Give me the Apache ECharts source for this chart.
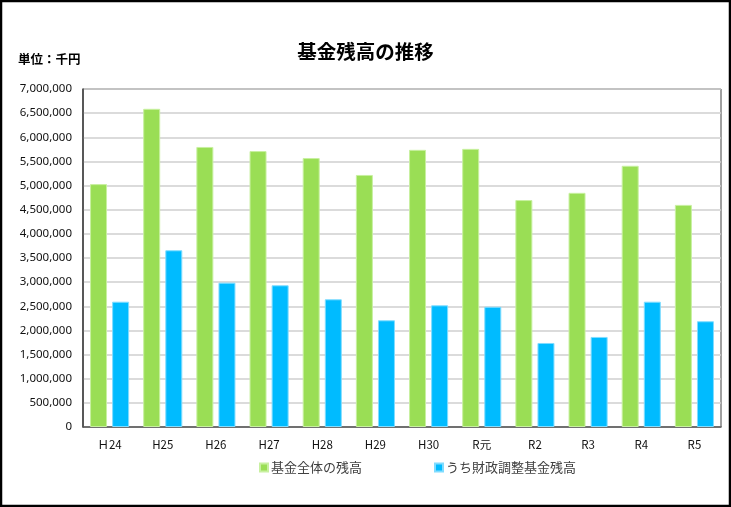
<!DOCTYPE html>
<html><head><meta charset="utf-8">
<script src="https://cdn.jsdelivr.net/npm/echarts@6/dist/echarts.min.js"></script>
<style>html,body{margin:0;padding:0;background:#fff}#c{width:731px;height:507px}</style>
</head><body><div id="c"></div>
<script>
const categories = ['Ｈ24','H25','H26','H27','H28','H29','H30','R元','R2','R3','R4','R5'];
const totalFund = [5030000,6590000,5800000,5715000,5570000,5220000,5740000,5760000,4700000,4850000,5410000,4600000];
const adjustFund = [2595000,3660000,2990000,2935000,2645000,2210000,2520000,2490000,1740000,1865000,2595000,2190000];
const seriesNames = ['基金全体の残高','うち財政調整基金残高'];
const yTicks = {min:0, max:7000000, interval:500000};

const font = '"Noto Sans CJK JP","Noto Sans",sans-serif';
const chart = echarts.init(document.getElementById('c'), null, {renderer:'canvas'});
chart.setOption({
  animation:false,
  backgroundColor:'#fff',
  title:{text:'基金残高の推移', left:'center', top:37, textStyle:{fontFamily:font, fontSize:19.5, fontWeight:'bold', color:'#000'}},
  graphic:[
    {type:'rect', shape:{x:1,y:1,width:729,height:505}, style:{fill:'none', stroke:'#000', lineWidth:2.5}, silent:true},
    {type:'text', left:18, top:53, style:{text:'単位：千円', font:'bold 12.5px "Noto Sans CJK JP",sans-serif', fill:'#000'}}
  ],
  legend:{data:seriesNames, bottom:28, left:254, itemWidth:8, itemHeight:8, itemGap:72, icon:'rect',
    textStyle:{fontFamily:font, fontSize:13, color:'#404040', padding:[0,0,0,-2]}},
  grid:{left:83, right:10, top:89, bottom:80, show:true, borderColor:'#404040', borderWidth:1},
  xAxis:{type:'category', data:categories, axisTick:{show:false},
    axisLine:{lineStyle:{color:'#555', width:1.5}},
    axisLabel:{fontFamily:font, fontSize:11.5, color:'#111', margin:12}},
  yAxis:{type:'value', min:yTicks.min, max:yTicks.max, interval:yTicks.interval,
    axisLine:{show:true, lineStyle:{color:'#404040', width:1.5}},
    splitLine:{lineStyle:{color:'#cfcfcf', width:1.5}},
    axisLabel:{fontFamily:'"Noto Sans",sans-serif', fontSize:11.5, color:'#111', margin:11,
      formatter:v=>v.toLocaleString('en-US')}},
  series:[
    {name:seriesNames[0], type:'bar', data:totalFund, barWidth:17, barGap:'30%',
      itemStyle:{color:'#9ade55', borderColor:'#c8f0a0', borderWidth:1}},
    {name:seriesNames[1], type:'bar', data:adjustFund, barWidth:17,
      itemStyle:{color:'#00bbff', borderColor:'#80dcff', borderWidth:1}}
  ]
});
</script></body></html>
